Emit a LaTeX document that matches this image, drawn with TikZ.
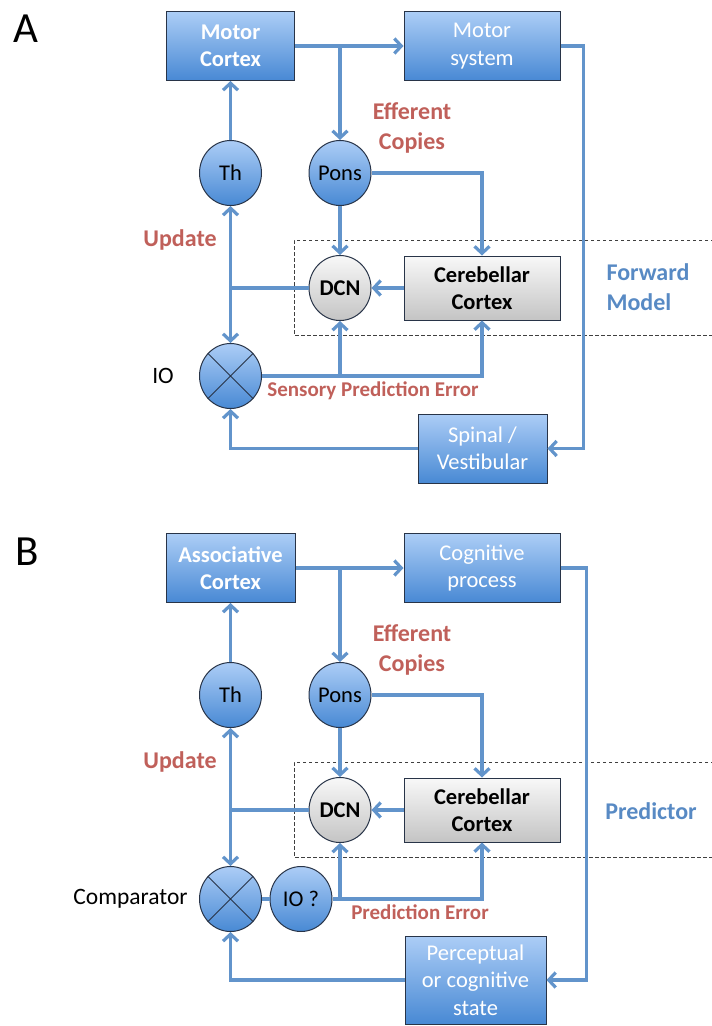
\documentclass[tikz,border=0pt]{standalone}
\usepackage{fontspec}
\setmainfont{Carlito}
\usetikzlibrary{arrows.meta}
\usetikzlibrary{shapes.geometric}

\definecolor{wireblue}{RGB}{98,148,203}
\definecolor{boxtop}{RGB}{172,205,246}
\definecolor{boxbot}{RGB}{72,137,212}
\definecolor{boxedge}{RGB}{40,52,72}
\definecolor{graytop}{RGB}{248,248,248}
\definecolor{graybot}{RGB}{196,196,196}
\definecolor{errred}{RGB}{192,96,90}
\definecolor{modelblue}{RGB}{88,138,196}

\tikzset{
  bluebox/.style={draw=boxedge, line width=1pt, top color=boxtop, bottom color=boxbot,
    minimum height=69pt, inner sep=0pt, align=center, text=white,
    font=\fontsize{22.5}{27.5}\selectfont},
  graybox/.style={bluebox, top color=graytop, bottom color=graybot, text=black,
    font=\fontsize{22.5}{27.5}\selectfont\bfseries},
  bluedot/.style={ellipse, draw=boxedge, line width=1pt, top color=boxtop, bottom color=boxbot,
    minimum width=62pt, minimum height=65pt, inner sep=0pt,
    font=\fontsize{22.5}{27.5}\selectfont},
  graydot/.style={bluedot, top color=graytop, bottom color=graybot, font=\fontsize{22.5}{27.5}\selectfont\bfseries},
  redlabel/.style={text=errred, align=center, font=\fontsize{24}{30}\selectfont\bfseries},
  modellabel/.style={text=modelblue, align=left, font=\fontsize{24}{30}\selectfont\bfseries},
  panellabel/.style={font=\fontsize{43}{43}\selectfont},
  plainlabel/.style={font=\fontsize{23.5}{27.5}\selectfont},
  wire/.style={draw=wireblue, line width=3.2pt},
  feed/.style={wire, -{Straight Barb[length=7pt,width=15pt]}},
  dashbox/.style={draw=black!75, line width=0.9pt, dash pattern=on 3.5pt off 2.5pt},
}

\begin{document}
\begin{tikzpicture}[x=1pt, y=-1pt]
    \useasboundingbox (0,0) rectangle (712,1026);

    % ---------- A ----------
    \node[panellabel] (labA) at (25.5,29) {A};
    \draw[dashbox] (714,240) -- (294,240) -- (294,335) -- (714,335);

    \node[bluebox, minimum width=128pt, font=\fontsize{22.5}{27.5}\selectfont\bfseries] (mctxA) at (230.5,46) {Motor\\Cortex};
    \node[bluebox, minimum width=156pt] (msysA) at (482,46) {Motor\\system};
    \node[bluedot] (thA) at (230.5,173) {Th};
    \node[bluedot] (ponsA) at (340,173) {Pons};
    \node[graydot] (dcnA) at (340,288) {DCN};
    \node[graybox, minimum width=156pt, minimum height=64pt] (cerA) at (482,288) {Cerebellar\\Cortex};
    \node[bluedot] (ioA) at (230.5,376) {};
    \node[bluebox, minimum width=129pt] (spinA) at (482.5,448.5) {Spinal /\\Vestibular};

    \node[redlabel] (effA) at (412,128) {Efferent\\Copies};
    \node[redlabel] (updA) at (180,240) {Update};
    \node[modellabel] (fwdA) at (648,287) {Forward\\Model};
    \node[plainlabel] (ioname) at (163,376) {IO};
    \node[redlabel, font=\fontsize{21}{24}\selectfont\bfseries] (speA) at (373,391) {Sensory Prediction Error};

    \draw[boxedge, line width=1pt] (ioA.45) -- (ioA.225) (ioA.135) -- (ioA.-45);

    \draw[feed] (mctxA.east) -- (msysA.west);
    \draw[feed] (mctxA.east -| ponsA.north) -- (ponsA.north);
    \draw[feed] (thA.north) -- (mctxA.south);
    \draw[feed] (ponsA.south) -- (dcnA.north);
    \draw[feed] (ponsA.east) -| (cerA.north);
    \draw[feed] (cerA.west) -- (dcnA.east);
    \draw[wire] (dcnA.west) -- (dcnA.west -| thA.south);
    \draw[wire, {Straight Barb[length=7pt,width=15pt]}-{Straight Barb[length=7pt,width=15pt]}] (thA.south) -- (ioA.north);
    \draw[feed] (ioA.east) -| (cerA.south);
    \draw[feed] (ioA.east -| dcnA.south) -- (dcnA.south);
    \draw[feed] (msysA.east) -- ++(23,0) |- (spinA.east);
    \draw[feed] (spinA.west) -| (ioA.south);

    % ---------- B ----------
    \node[panellabel] (labB) at (27,552) {B};
    \draw[dashbox] (714,762) -- (294,762) -- (294,857) -- (714,857);

    \node[bluebox, minimum width=129pt, font=\fontsize{22.5}{27.5}\selectfont\bfseries] (actxB) at (230.5,568) {Associative\\Cortex};
    \node[bluebox, minimum width=156pt] (cogB) at (482,568) {Cognitive\\process};
    \node[bluedot] (thB) at (230.5,695) {Th};
    \node[bluedot] (ponsB) at (340,695) {Pons};
    \node[graydot] (dcnB) at (340,810) {DCN};
    \node[graybox, minimum width=156pt, minimum height=64pt] (cerB) at (482,810) {Cerebellar\\Cortex};
    \node[bluedot] (cmpB) at (230.5,899) {};
    \node[bluedot] (ioB) at (301,899) {IO ?};
    \node[bluebox, minimum width=141pt, minimum height=88pt] (percB) at (475.5,980) {Perceptual\\or cognitive\\state};

    \node[redlabel] (effB) at (412,650) {Efferent\\Copies};
    \node[redlabel] (updB) at (180,762) {Update};
    \node[modellabel] (predB) at (651,811) {Predictor};
    \node[plainlabel] (cmpname) at (130.5,899) {Comparator};
    \node[redlabel, font=\fontsize{21}{24}\selectfont\bfseries] (peB) at (420,912) {Prediction Error};

    \draw[boxedge, line width=1pt] (cmpB.45) -- (cmpB.225) (cmpB.135) -- (cmpB.-45);

    \draw[feed] (actxB.east) -- (cogB.west);
    \draw[feed] (actxB.east -| ponsB.north) -- (ponsB.north);
    \draw[feed] (thB.north) -- (actxB.south);
    \draw[feed] (ponsB.south) -- (dcnB.north);
    \draw[feed] (ponsB.east) -| (cerB.north);
    \draw[feed] (cerB.west) -- (dcnB.east);
    \draw[wire] (dcnB.west) -- (dcnB.west -| thB.south);
    \draw[wire, {Straight Barb[length=7pt,width=15pt]}-{Straight Barb[length=7pt,width=15pt]}] (thB.south) -- (cmpB.north);
    \draw[wire] (cmpB.east) -- (ioB.west);
    \draw[feed] (ioB.east) -| (cerB.south);
    \draw[feed] (ioB.east -| dcnB.south) -- (dcnB.south);
    \draw[feed] (cogB.east) -- ++(26,0) |- (percB.east);
    \draw[feed] (percB.west) -| (cmpB.south);
\end{tikzpicture}
\end{document}
